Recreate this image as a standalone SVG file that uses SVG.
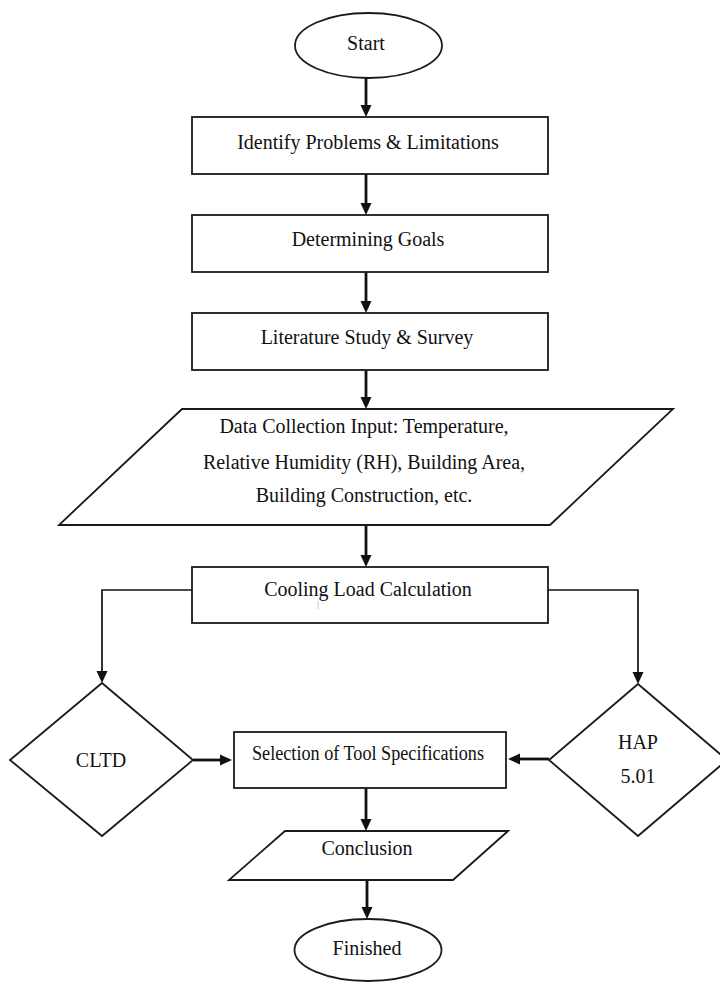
<svg xmlns="http://www.w3.org/2000/svg" width="720" height="982" viewBox="0 0 720 982">
  <style>
    .shape { fill: #ffffff; stroke: #1a1a1a; stroke-width: 1.8; }
    .lbl { font-family: "Liberation Serif", "Times New Roman", serif; font-size: 20px; fill: #111111; text-anchor: middle; }
    .thick { fill: none; stroke: #111111; stroke-width: 2.8; marker-end: url(#ah); }
    .thin { fill: none; stroke: #111111; stroke-width: 1.7; marker-end: url(#ah); }
  </style>
  <defs>
    <marker id="ah" markerUnits="userSpaceOnUse" markerWidth="12" markerHeight="12" refX="2" refY="6" orient="auto" viewBox="0 0 12 12">
      <path d="M0,0.5 L12,6 L0,11.5 z" fill="#111111"/>
    </marker>
  </defs>
  <rect x="0" y="0" width="720" height="982" fill="#ffffff"/>

  <g id="connectors">
    <line class="thick" x1="366" y1="78" x2="366" y2="107"/>
    <line class="thick" x1="366" y1="174" x2="366" y2="205"/>
    <line class="thick" x1="366" y1="272" x2="366" y2="303"/>
    <line class="thick" x1="366" y1="370" x2="366" y2="399"/>
    <line class="thick" x1="366" y1="525" x2="366" y2="557"/>
    <polyline class="thin" points="192,590 102,590 102,673"/>
    <polyline class="thin" points="548,590 638,590 638,674"/>
    <line class="thick" x1="193" y1="760" x2="222" y2="760"/>
    <line class="thick" x1="549" y1="759" x2="518" y2="759"/>
    <line class="thick" x1="366" y1="788" x2="366" y2="821"/>
    <line class="thick" x1="367" y1="880" x2="367" y2="909"/>
  </g>

  <g id="start">
    <ellipse class="shape" cx="368.5" cy="45.5" rx="73.5" ry="32.5"/>
    <text class="lbl" x="366" y="50">Start</text>
  </g>

  <g id="identify">
    <rect class="shape" x="192" y="117" width="356" height="57"/>
    <text class="lbl" x="368" y="149">Identify Problems &amp; Limitations</text>
  </g>

  <g id="goals">
    <rect class="shape" x="192" y="215" width="356" height="57"/>
    <text class="lbl" x="368" y="246">Determining Goals</text>
  </g>

  <g id="literature">
    <rect class="shape" x="192" y="313" width="356" height="57"/>
    <text class="lbl" x="367" y="344">Literature Study &amp; Survey</text>
  </g>

  <g id="data">
    <polygon class="shape" points="182,409 673,409 550,525 59,525"/>
    <text class="lbl" x="364" y="433">Data Collection Input: Temperature,</text>
    <text class="lbl" x="364" y="469">Relative Humidity (RH), Building Area,</text>
    <text class="lbl" x="364" y="502">Building Construction, etc.</text>
  </g>

  <g id="cooling">
    <rect class="shape" x="192" y="567" width="356" height="56"/>
    <text class="lbl" x="368" y="596">Cooling Load Calculation</text>
    <line x1="318" y1="601" x2="318" y2="609" stroke="#c8c8c8" stroke-width="1"/>
  </g>

  <g id="cltd">
    <polygon class="shape" points="102,683 193,760 102,836 10,760"/>
    <text class="lbl" x="101" y="767">CLTD</text>
  </g>

  <g id="hap">
    <polygon class="shape" points="638,684 727,760 638,836 549,760"/>
    <text class="lbl" x="638" y="749">HAP</text>
    <text class="lbl" x="638" y="783">5.01</text>
  </g>

  <g id="selection">
    <rect class="shape" x="234" y="732" width="272" height="56"/>
    <text class="lbl" x="368" y="760" textLength="232" lengthAdjust="spacingAndGlyphs">Selection of Tool Specifications</text>
  </g>

  <g id="conclusion">
    <polygon class="shape" points="285,831 508,831 453,880 229,880"/>
    <text class="lbl" x="367" y="855">Conclusion</text>
  </g>

  <g id="finished">
    <ellipse class="shape" cx="368" cy="950" rx="73.5" ry="31"/>
    <text class="lbl" x="367" y="955">Finished</text>
  </g>
</svg>
